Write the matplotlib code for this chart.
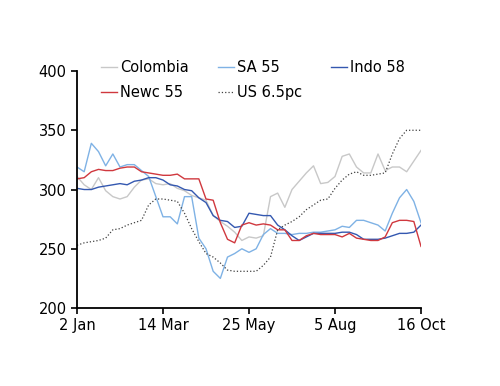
import pandas as pd
import matplotlib
matplotlib.use("Agg")
import matplotlib.pyplot as plt

# dates: every 6 days from 2 Jan to 16 Oct 2016
dates = pd.date_range("2016-01-02", "2016-10-16", freq="6D")

colombia = [311, 304, 300, 310, 299, 294, 292, 294, 302, 308, 309, 305, 304, 305, 301, 299, 295,
            293, 291, 278, 273, 269, 264, 257, 260, 259, 261, 294, 297, 285, 300, 307, 314, 320,
            305, 306, 311, 328, 330, 319, 314, 314, 330, 316, 319, 319, 315, 324, 333]
sa55 = [319, 315, 339, 332, 320, 330, 319, 321, 321, 316, 311, 294, 277, 277, 271, 294, 294,
        259, 250, 231, 225, 243, 246, 250, 247, 250, 262, 267, 263, 263, 262, 263, 263, 264,
        264, 265, 266, 269, 268, 274, 274, 272, 270, 265, 280, 293, 300, 290, 272]
indo58 = [301, 300, 300, 302, 303, 304, 305, 304, 307, 308, 310, 310, 308, 304, 303, 300, 299,
          293, 289, 278, 274, 273, 268, 269, 280, 279, 278, 278, 270, 266, 261, 257, 260, 263,
          263, 263, 263, 264, 264, 262, 258, 258, 258, 259, 261, 263, 263, 264, 270]
newc55 = [309, 310, 315, 317, 316, 316, 318, 319, 319, 315, 314, 313, 312, 312, 313, 309, 309,
          309, 292, 291, 272, 258, 255, 270, 272, 270, 271, 270, 266, 266, 257, 257, 261, 263,
          262, 262, 262, 260, 263, 259, 258, 257, 257, 260, 272, 274, 274, 273, 252]
us65 = [253, 255, 256, 257, 259, 266, 267, 270, 272, 274, 287, 292, 292, 291, 290, 280, 267,
        256, 246, 243, 238, 232, 231, 231, 231, 231, 236, 243, 266, 270, 273, 277, 283, 287,
        291, 292, 301, 308, 313, 315, 312, 312, 313, 314, 330, 343, 350, 350, 350]

tick_dates = pd.to_datetime(["2016-01-02", "2016-03-14", "2016-05-25", "2016-08-05", "2016-10-16"])
tick_labels = ["2 Jan", "14 Mar", "25 May", "5 Aug", "16 Oct"]

plt.rcParams["font.family"] = ["DejaVu Sans"]
plt.rcParams["font.size"] = 10.5

fig = plt.figure(figsize=(5, 3.86), dpi=100)
ax = fig.add_axes([0.154, 0.202, 0.688, 0.614])

l_col, = ax.plot(dates, colombia, color="#c8c8c8", lw=1, label="Colombia")
l_sa, = ax.plot(dates, sa55, color="#7fb2e5", lw=1, label="SA 55")
l_indo, = ax.plot(dates, indo58, color="#3458b0", lw=1, label="Indo 58")
l_newc, = ax.plot(dates, newc55, color="#d0383e", lw=1, label="Newc 55")
l_us, = ax.plot(dates, us65, color="#404040", lw=0.9, ls=":", label="US 6.5pc")

ax.set_xlim(tick_dates[0], tick_dates[-1])
ax.set_ylim(200, 400)
ax.set_yticks(range(200, 401, 50))
ax.set_xticks(tick_dates)
ax.set_xticklabels(tick_labels)
ax.tick_params(direction="out", length=4, width=1.2, colors="black")

for s in ["top", "right"]:
    ax.spines[s].set_visible(False)
for s in ["left", "bottom"]:
    ax.spines[s].set_linewidth(1.3)

# legend fills column by column, so order handles to get rows right
handles = [l_col, l_newc, l_sa, l_us, l_indo]
ax.legend(handles=handles, labels=[h.get_label() for h in handles],
          loc="upper left", bbox_to_anchor=(0.202, 0.845), bbox_transform=fig.transFigure,
          ncol=3, frameon=False, handlelength=1.1, handletextpad=0.2,
          columnspacing=2.0, labelspacing=0.7, borderpad=0, borderaxespad=0)

fig.savefig("out.png", dpi=100)
